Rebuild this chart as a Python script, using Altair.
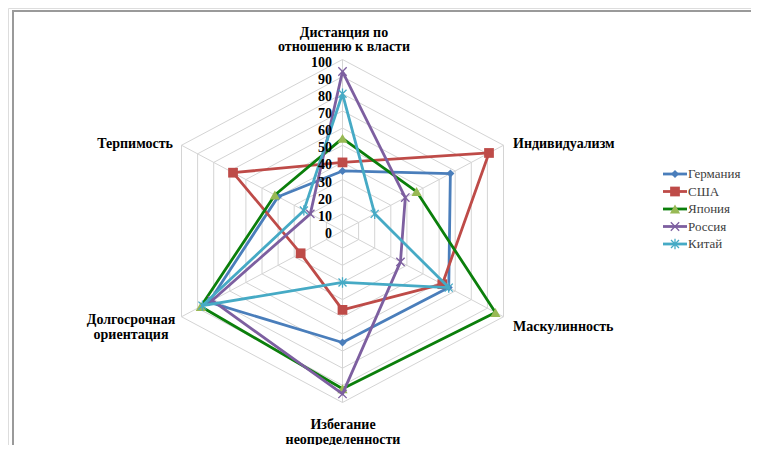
import altair as alt
import pandas as pd

# ---------------- data ----------------
categories = [
    "Дистанция по\nотношению к власти",
    "Индивидуализм",
    "Маскулинность",
    "Избегание\nнеопределенности",
    "Долгосрочная\nориентация",
    "Терпимость",
]
countries = ["Германия", "США", "Япония", "Россия", "Китай"]
germany = [35, 67, 66, 65, 83, 40]
usa = [40, 91, 62, 46, 26, 68]
japan = [54, 46, 95, 92, 88, 42]
russia = [93, 39, 36, 95, 81, 20]
china = [80, 20, 66, 30, 87, 24]
ticks = [0, 10, 20, 30, 40, 50, 60, 70, 80, 90, 100]

series = [germany, usa, japan, russia, china]

# ---------------- geometry / style ----------------
W, H = 743, 437
CX, CY = 334.5, 223.0      # centre of radar in chart pixels
KX, KY = 1.859, 1.715      # pixels per unit in x / y
N = len(categories)

xs = alt.Scale(domain=[-CX / KX, (W - CX) / KX], nice=False, zero=False)
ys = alt.Scale(domain=[-(H - CY) / KY, CY / KY], nice=False, zero=False)

FONT = "Liberation Serif, Times New Roman, DejaVu Serif, serif"

line_colors = ["#4a7ebb", "#be4b48", "#0b7f0b", "#7d5fa0", "#46aac5"]
marker_colors = ["#4a7ebb", "#be4b48", "#98b954", "#7d5fa0", "#46aac5"]
shapes = [
    "diamond",
    "square",
    "triangle-up",
    "M-1,-1L1,1M-1,1L1,-1",
    "M-1,-1L1,1M-1,1L1,-1M0,-1.3L0,1.3",
]
sizes = [64, 95, 105, 70, 64]
filled = [True, True, True, False, False]

calc_xy = dict(
    px="datum.v * sin(datum.i * PI / 3)",
    py="datum.v * cos(datum.i * PI / 3)",
)


def X(field="px"):
    return alt.X(f"{field}:Q", scale=xs, axis=None)


def Y(field="py"):
    return alt.Y(f"{field}:Q", scale=ys, axis=None)


def point_style(s):
    pk = dict(shape=shapes[s], size=sizes[s], opacity=1)
    if filled[s]:
        pk.update(filled=True, color=marker_colors[s], strokeWidth=0)
    else:
        pk.update(filled=False, stroke=marker_colors[s], strokeWidth=1.3)
    return pk


layers = []

# grid rings
ring_rows = []
for r in ticks[1:]:
    for k in range(N + 1):
        ring_rows.append({"ring": r, "ord": k, "i": k % N, "v": r})
rings = (
    alt.Chart(pd.DataFrame(ring_rows))
    .transform_calculate(**calc_xy)
    .mark_line(color="#d4d4d4", strokeWidth=1)
    .encode(x=X(), y=Y(), detail="ring:N", order="ord:Q")
)
layers.append(rings)

# spokes
spoke_df = pd.DataFrame({"i": list(range(N)), "v": [ticks[-1]] * N, "z": [0] * N})
spokes = (
    alt.Chart(spoke_df)
    .transform_calculate(**calc_xy)
    .mark_rule(color="#d4d4d4", strokeWidth=1)
    .encode(x=X("z"), y=Y("z"), x2="px:Q", y2="py:Q")
)
layers.append(spokes)

# series
for s, (name, vals) in enumerate(zip(countries, series)):
    rows = [{"country": name, "ord": k, "i": k % N, "v": vals[k % N]} for k in range(N + 1)]
    df = pd.DataFrame(rows)
    base = alt.Chart(df).transform_calculate(**calc_xy)
    ln = base.mark_line(color=line_colors[s], strokeWidth=2.8, strokeJoin="round").encode(
        x=X(), y=Y(), order="ord:Q"
    )
    pts = (
        base.transform_filter(f"datum.ord < {N}")
        .mark_point(**point_style(s))
        .encode(x=X(), y=Y())
    )
    layers.append(ln)
    layers.append(pts)

# tick labels
tick_df = pd.DataFrame({"t": ticks})
tick_text = (
    alt.Chart(tick_df)
    .mark_text(font=FONT, fontSize=14, fontWeight="bold", align="right",
               baseline="middle", dy=3, color="#000000")
    .encode(x=alt.value(324), y=alt.Y("t:Q", scale=ys, axis=None), text="t:Q")
)
layers.append(tick_text)

# category labels: (x, y of first line, align) in chart pixels
label_pos = [
    (336, 24.5, "center"),
    (505, 136, "left"),
    (505, 319, "left"),
    (335, 417, "center"),
    (123, 312, "center"),
    (165, 136, "right"),
]
for k, (lx, ly, al) in enumerate(label_pos):
    t = (
        alt.Chart(pd.DataFrame({"label": [categories[k]]}))
        .mark_text(font=FONT, fontSize=14, fontWeight="bold", align=al,
                   baseline="middle", lineBreak="\n", lineHeight=14.5, color="#000000")
        .encode(x=alt.value(lx), y=alt.value(ly), text="label:N")
    )
    layers.append(t)

# legend
LEG_X0, LEG_X1, LEG_Y0, LEG_DY = 655, 679, 166, 17.5
for s, name in enumerate(countries):
    yy = LEG_Y0 + s * LEG_DY
    d = pd.DataFrame({"country": [name]})
    layers.append(
        alt.Chart(d).mark_rule(color=line_colors[s], strokeWidth=2.8)
        .encode(x=alt.value(LEG_X0), x2=alt.value(LEG_X1), y=alt.value(yy))
    )
    layers.append(
        alt.Chart(d).mark_point(**point_style(s))
        .encode(x=alt.value((LEG_X0 + LEG_X1) / 2), y=alt.value(yy))
    )
    layers.append(
        alt.Chart(d).mark_text(font=FONT, fontSize=13, align="left", baseline="middle",
                               color="#404040")
        .encode(x=alt.value(LEG_X1 + 1), y=alt.value(yy), text="country:N")
    )

# frame lines
frame_df = pd.DataFrame({"a": [0]})
layers.append(
    alt.Chart(frame_df).mark_rule(color="#9a9a9a", strokeWidth=2)
    .encode(x=alt.value(4), x2=alt.value(W), y=alt.value(3))
)
layers.append(
    alt.Chart(frame_df).mark_rule(color="#9a9a9a", strokeWidth=2)
    .encode(x=alt.value(5), y=alt.value(3), y2=alt.value(H))
)

chart = (
    alt.layer(*layers)
    .properties(width=W, height=H, padding=0, autosize=alt.AutoSizeParams(type="none"))
    .configure_view(stroke=None)
    .configure(background="white")
)

chart.save("out.html", embed_options={"renderer": "svg", "actions": False})
